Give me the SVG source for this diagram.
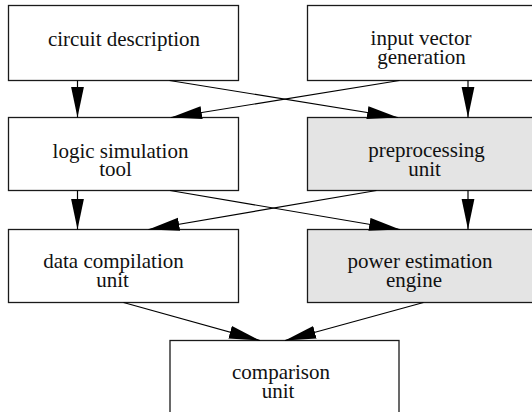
<svg xmlns="http://www.w3.org/2000/svg" width="532" height="412" viewBox="0 0 532 412">
<style>
.box{fill:#ffffff;stroke:#1a1a1a;stroke-width:1.3}
.shade{fill:#e4e4e4;stroke:#1a1a1a;stroke-width:1.3}
text{font-family:"Liberation Serif","Times New Roman",Times,serif;font-size:21px;fill:#111;text-anchor:middle}
.conn line{stroke:#000;stroke-width:1.2;fill:none;marker-end:url(#ah)}
</style>
<defs>
<marker id="ah" markerUnits="userSpaceOnUse" markerWidth="31" markerHeight="14" refX="31" refY="6.5" orient="auto" viewBox="0 0 31 13">
<path d="M0,0 L31,6.5 L0,13 z" fill="#000"/>
</marker>
</defs>
<rect x="0" y="0" width="532" height="412" fill="#fff"/>
<g id="circuit-description">
<rect class="box" x="8.5" y="5.5" width="230" height="75"/>
<text x="124" y="46">circuit description</text>
</g>
<g id="input-vector-generation">
<rect class="box" x="307.5" y="5.5" width="235" height="75"/>
<text x="421" y="45">input vector</text>
<text x="421.5" y="63.5">generation</text>
</g>
<g id="logic-simulation-tool">
<rect class="box" x="8.5" y="117.5" width="230" height="73"/>
<text x="120.5" y="157.5">logic simulation</text>
<text x="115.5" y="176">tool</text>
</g>
<g id="preprocessing-unit">
<rect class="shade" x="307.5" y="117.5" width="235" height="73"/>
<text x="426.5" y="157">preprocessing</text>
<text x="424.5" y="175.5">unit</text>
</g>
<g id="data-compilation-unit">
<rect class="box" x="8.5" y="229.5" width="230" height="73"/>
<text x="113.5" y="268">data compilation</text>
<text x="112.5" y="286.5">unit</text>
</g>
<g id="power-estimation-engine">
<rect class="shade" x="307.5" y="229.5" width="235" height="73"/>
<text x="420" y="268">power estimation</text>
<text x="414" y="286.5">engine</text>
</g>
<g id="comparison-unit">
<rect class="box" x="170" y="340.5" width="229" height="80"/>
<text x="281" y="379">comparison</text>
<text x="278" y="397.5">unit</text>
</g>
<g id="connectors" class="conn">
<line x1="77.5" y1="80.5" x2="77.5" y2="117.5"/>
<line x1="468" y1="80.5" x2="468" y2="117.5"/>
<line x1="169.5" y1="80.5" x2="398" y2="117.5"/>
<line x1="399.5" y1="80.5" x2="171" y2="117.5"/>
<line x1="77.5" y1="190.5" x2="77.5" y2="229.5"/>
<line x1="468" y1="190.5" x2="468" y2="229.5"/>
<line x1="170" y1="190.5" x2="400" y2="229.5"/>
<line x1="376.5" y1="190.5" x2="148.5" y2="229.5"/>
<line x1="123.5" y1="302.5" x2="260" y2="340.5"/>
<line x1="423.5" y1="302.5" x2="285" y2="340.5"/>
</g>
</svg>
